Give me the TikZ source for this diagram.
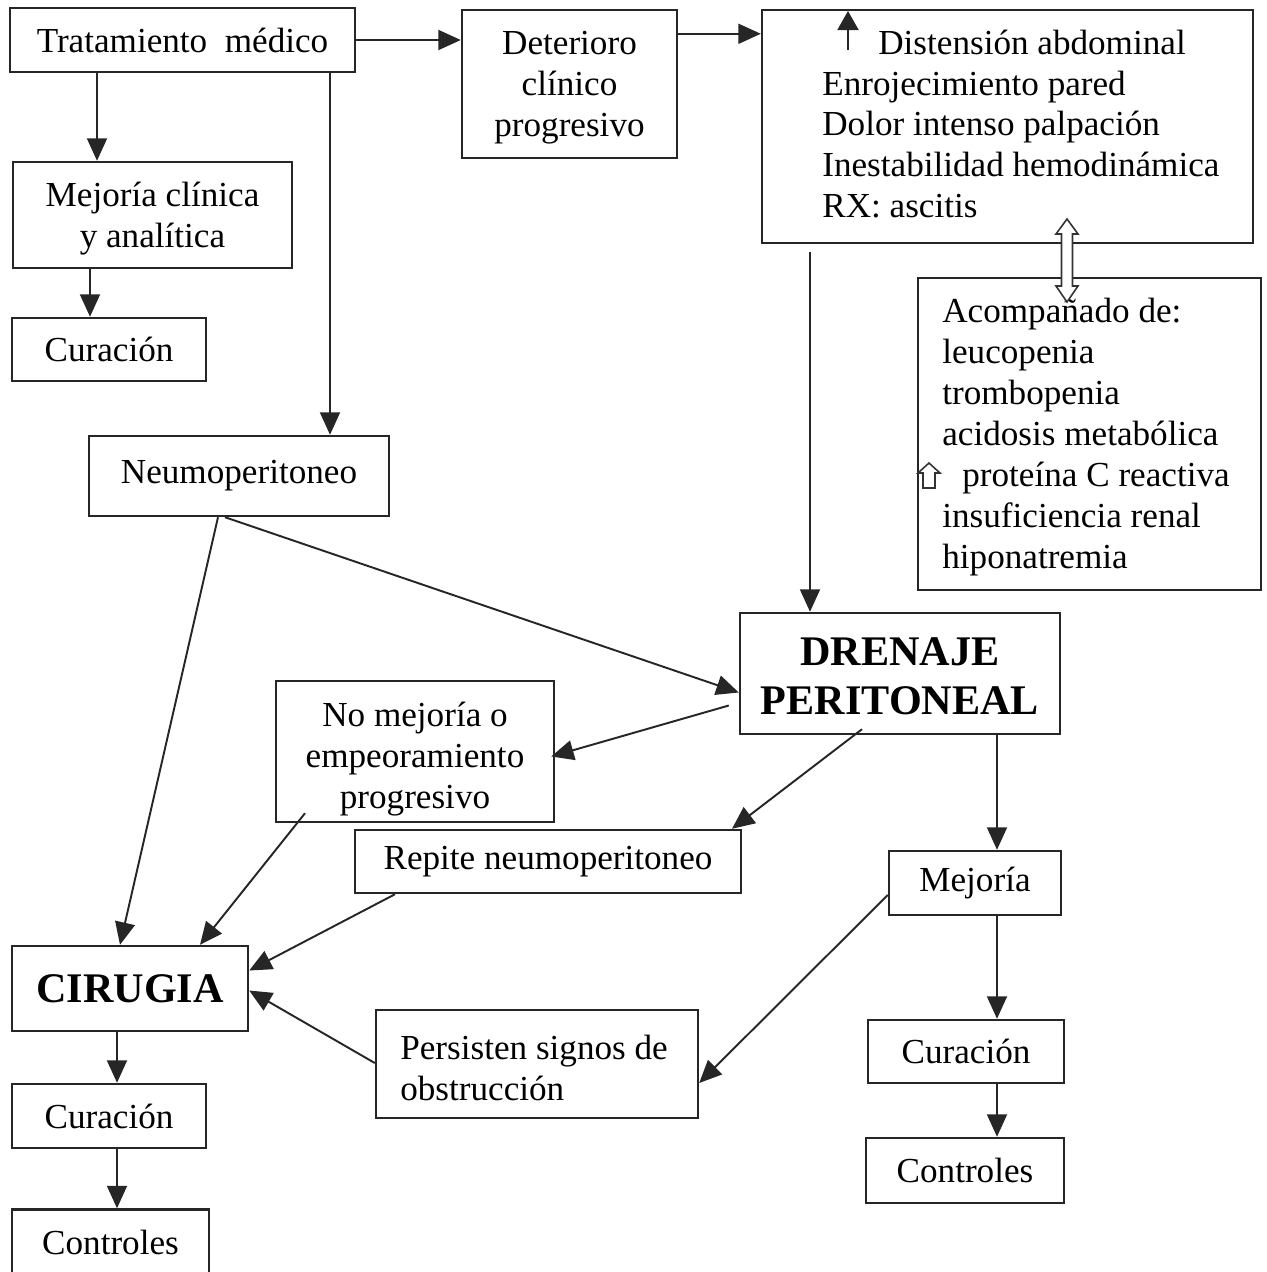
\documentclass[tikz,border=0pt]{standalone}
\usepackage{fontspec}
\setmainfont{Liberation Serif}
\usetikzlibrary{arrows.meta,calc}
\begin{document}
\begin{tikzpicture}[x=0.02cm,y=-0.02cm,
  box/.style={draw=black!85, line width=1.4pt, inner sep=0pt, align=center,
    font=\fontsize{20}{23.3}\selectfont},
  txt/.style={inner sep=0pt, align=left, font=\fontsize{20}{23.3}\selectfont},
  ctxt/.style={inner sep=0pt, align=center, font=\fontsize{20}{23.3}\selectfont},
  bigbox/.style={box, font=\fontsize{24}{27}\selectfont\bfseries},
  bigtxt/.style={inner sep=0pt, align=center, font=\fontsize{24}{27.8}\selectfont\bfseries},
  arr/.style={draw=black!85, line width=1.1pt, -{Triangle[length=0.45cm,width=0.4cm]}},
  hollow/.style={draw=black!80, line width=0.9pt, fill=white}
]
\useasboundingbox (0,0) rectangle (1267,1272);
% helper columns
\foreach \c in {90,97,117,120,200,218,225,305,330,395,732,810,862,997}{\coordinate (c\c) at (\c,0);}

% nodes
\node[box, minimum width=6.9cm, minimum height=1.28cm] (trat) at (182.5,40) {Tratamiento\ \ médico};
\node[box, minimum width=4.3cm, minimum height=2.96cm] (det) at (569.5,84) {};
\node[ctxt] (dett) at (569.5,88) {Deterioro\\clínico\\progresivo};
\node[box, minimum width=9.82cm, minimum height=4.66cm] (sint) at (1007.5,126.5) {};
\node[txt, anchor=west] (sintt) at (822,124) {\hspace*{1.12cm}Distensión abdominal\\Enrojecimiento pared\\Dolor intenso palpación\\Inestabilidad hemodinámica\\RX: ascitis};
\node[box, minimum width=5.58cm, minimum height=2.12cm] (mej) at (152.5,215) {};
\node[ctxt] (mejt) at (152.5,219) {Mejoría clínica\\y analítica};
\node[box, minimum width=3.88cm, minimum height=1.26cm] (cur1) at (109,349.5) {Curación};
\node[box, minimum width=6.86cm, minimum height=6.24cm] (acomp) at (1089.5,434) {};
\node[txt, anchor=west] (acompt) at (942,437) {Acompañado de:\\leucopenia\\trombopenia\\acidosis metabólica\\\hspace*{0.4cm}proteína C reactiva\\insuficiencia renal\\hiponatremia};
\node[box, minimum width=6.0cm, minimum height=1.6cm] (neumo) at (239,476) {Neumoperitoneo};
\node[box, minimum width=6.4cm, minimum height=2.42cm] (dren) at (900,673.5) {};
\node[bigtxt] (drent) at (900,676) {DRENAJE\\PERITONEAL};
\node[box, minimum width=5.56cm, minimum height=2.82cm] (nomej) at (415,751.5) {};
\node[ctxt] (nomejt) at (415,759) {No mejoría o\\empeoramiento\\progresivo};
\node[box, minimum width=7.72cm, minimum height=1.26cm] (rep) at (548,861.5) {Repite neumoperitoneo};
\node[box, minimum width=3.44cm, minimum height=1.28cm] (mejo) at (975,883) {Mejoría};
\node[bigbox, minimum width=4.72cm, minimum height=1.7cm] (cir) at (130,988.5) {CIRUGIA};
\node[box, minimum width=6.44cm, minimum height=2.16cm] (pers) at (537,1064) {};
\node[txt, anchor=west] (perst) at (400,1068) {Persisten signos de\\obstrucción};
\node[box, minimum width=3.92cm, minimum height=1.26cm] (cur2) at (966,1051.5) {Curación};
\node[box, minimum width=3.96cm, minimum height=1.3cm] (con2) at (965,1170.5) {Controles};
\node[box, minimum width=3.88cm, minimum height=1.28cm] (cur3) at (109,1116) {Curación};
\node[box, minimum width=3.94cm, minimum height=1.3cm] (con3) at (110.5,1242) {Controles};

% small up arrow before "Distensión"
\coordinate (upA) at (848,50);
\coordinate (upB) at (848,11);
\draw[draw=black!85, line width=1.1pt, -{Triangle[length=0.38cm,width=0.42cm]}] (upA) -- (upB);

% hollow double arrow between symptom box and acompañado box
\draw[hollow] (1067,219) -- (1078,234) -- (1072.5,234) -- (1072.5,286) -- (1078,286)
  -- (1067,302) -- (1056,286) -- (1061.5,286) -- (1061.5,234) -- (1056,234) -- cycle;

% hollow up arrow before "proteína"
\draw[hollow] (929,463) -- (940,473) -- (935,473) -- (935,488) -- (923,488) -- (923,473) -- (918,473) -- cycle;

% connectors
\coordinate (dA) at ($(det.north east)+(0,25)$);
\draw[arr] (trat.east) -- (trat.east -| det.west);
\draw[arr] (dA) -- (dA -| sint.west);
\draw[arr] (trat.south -| c97) -- (mej.north -| c97);
\draw[arr] (mej.south -| c90) -- (cur1.north -| c90);
\draw[arr] (trat.south -| c330) -- (neumo.north -| c330);
\coordinate (sA) at ($(sint.south -| c810)+(0,8)$);
\draw[arr] (sA) -- (dren.north -| c810);
\draw[arr] (neumo.south -| c225) -- ($(dren.west)+(0,19)$);
\draw[arr] (neumo.south -| c218) -- (cir.north -| c120);
\draw[arr] ($(dren.west)+(-10,32)$) -- ($(nomej.east)+(-4,5)$);
\draw[arr] ($(dren.south -| c862)+(0,-6)$) -- (rep.north -| c732);
\draw[arr] (dren.south -| c997) -- (mejo.north -| c997);
\draw[arr] ($(nomej.south -| c305)+(0,-10)$) -- (cir.north -| c200);
\draw[arr] (rep.south -| c395) -- ($(cir.east)+(0,-18)$);
\draw[arr] ($(pers.west)+(0,-1)$) -- ($(cir.east)+(0,2)$);
\draw[arr] ($(mejo.west)+(0,12)$) -- ($(pers.east)+(0,19)$);
\draw[arr] (mejo.south -| c997) -- (cur2.north -| c997);
\draw[arr] (cur2.south -| c997) -- (con2.north -| c997);
\draw[arr] (cir.south -| c117) -- (cur3.north -| c117);
\draw[arr] (cur3.south -| c117) -- (con3.north -| c117);
\end{tikzpicture}
\end{document}
